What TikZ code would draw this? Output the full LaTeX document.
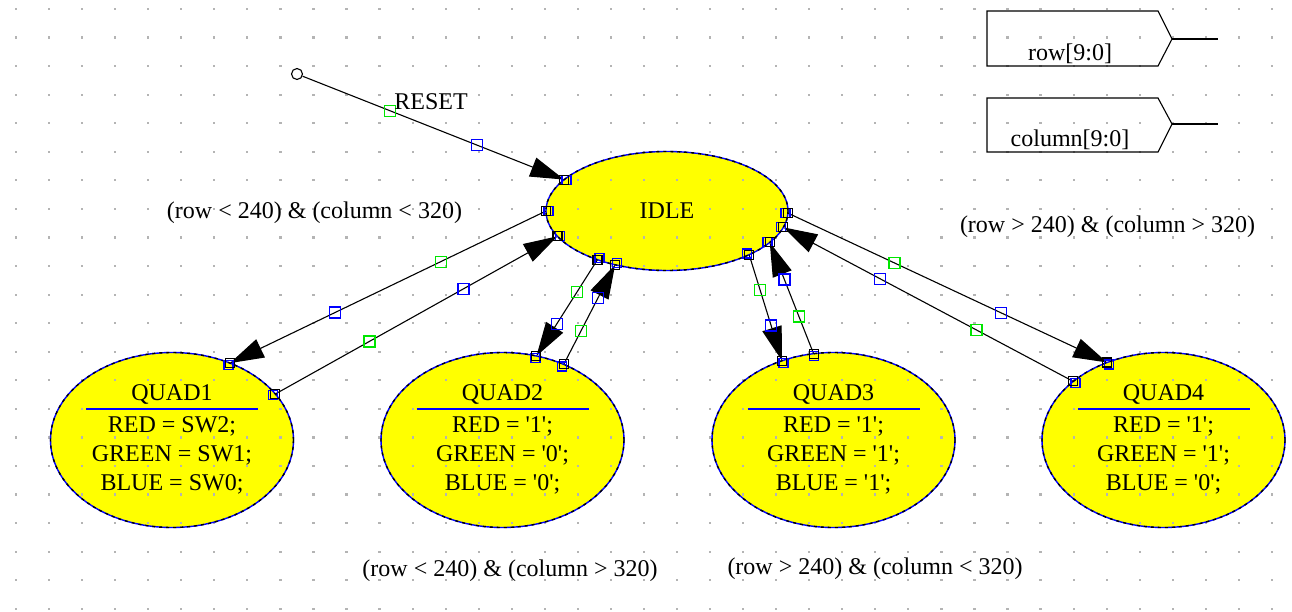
\documentclass[tikz,border=0pt]{standalone}
\usepackage{fontspec}
\setmainfont{Liberation Serif}
\usetikzlibrary{arrows.meta,shapes.geometric,calc}
\definecolor{dotc}{RGB}{180,180,180}
\definecolor{ylw}{RGB}{255,255,0}
\definecolor{hblue}{RGB}{0,0,255}
\definecolor{hgreen}{RGB}{0,230,0}
\tikzset{
  stateell/.style={ellipse, fill=ylw, inner sep=0pt, outer sep=0pt},
  idlesize/.style={minimum width=242pt, minimum height=119pt},
  quadsize/.style={minimum width=243pt, minimum height=175pt},
  txt/.style={font=\fontsize{24}{29}\selectfont, inner sep=0pt, text=black},
  conn/.style={draw=black, line width=1.1pt},
  arr/.style={-{Triangle[length=34pt,width=20pt]}},
  sepline/.style={draw=hblue, line width=1.4pt},
  outlb/.style={draw=hblue, line width=1.4pt},
  outlk/.style={draw=black, line width=1.4pt, dash pattern=on 3pt off 4pt},
  ksq/.style={draw=black, line width=1.1pt},
  bsq/.style={draw=hblue, line width=1.3pt},
  gsq/.style={draw=hgreen, line width=1.3pt},
  pinline/.style={draw=black, line width=1.1pt}
}
\newcommand\SqAt[3]{\draw[#1] ([shift={(-#2,-#2)}]#3) rectangle ([shift={(#2,#2)}]#3);}
\newcommand\EndMark[2]{%
  \coordinate (tmpb) at ($(#1.#2)!2.5pt!(#1.center)$);
  \SqAt{bsq}{4.5}{tmpb}
  \SqAt{ksq}{4.5}{#1.#2}}
\newcommand\Handles[2]{\SqAt{gsq}{5.5}{#1}\SqAt{bsq}{5.5}{#2}}
\newcommand\QuadText[6]{%
  \node[txt, anchor=base] (#1t) at (#2,400) {#3};
  \draw[sepline] ({#2-86},409) -- ({#2+86},409);
  \node[txt, anchor=base] (#1r) at (#2,432.5) {#4};
  \node[txt, anchor=base] (#1g) at (#2,461) {#5};
  \node[txt, anchor=base] (#1b) at (#2,490) {#6};}
\newcommand\sq{\textquotesingle}
\begin{document}
\begin{tikzpicture}[x=1pt,y=-1pt]
\useasboundingbox (0,0) rectangle (1292,611);
\fill[white] (0,0) rectangle (1292,611);
% state fills
\node[stateell, idlesize] (IDLE) at (667,211) {};
\node[stateell, quadsize] (Q1) at (172,440) {};
\node[stateell, quadsize] (Q2) at (502.5,440) {};
\node[stateell, quadsize] (Q3) at (833.5,440) {};
\node[stateell, quadsize] (Q4) at (1163.5,440) {};
% grid dots
\foreach \i in {0,...,38}{\foreach \j in {0,...,21}{
  \fill[dotc] ({16+33.05*\i-1.1},{9+28.56*\j-1.1}) rectangle ++(2.2,2.2);}}
% outlines
\draw[outlb] (IDLE.center) ellipse [x radius=121, y radius=59.5];
\draw[outlk] (IDLE.center) ellipse [x radius=121, y radius=59.5];
\foreach \n in {Q1,Q2,Q3,Q4}{
  \draw[outlb] (\n.center) ellipse [x radius=121.5, y radius=87.5];
  \draw[outlk] (\n.center) ellipse [x radius=121.5, y radius=87.5];}
% reset start
\node[circle, draw=black, line width=1.1pt, fill=white, minimum size=11pt, inner sep=0pt] (rst) at (297,74) {};
% connectors
\draw[conn,arr] (rst) -- (IDLE.163) coordinate[pos=1/3] (c0g) coordinate[pos=2/3] (c0b);
\draw[conn,arr] (IDLE.180) -- (Q1.53) coordinate[pos=1/3] (c1g) coordinate[pos=2/3] (c1b);
\draw[conn,arr] (Q1.24) -- (IDLE.193) coordinate[pos=1/3] (c2g) coordinate[pos=2/3] (c2b);
\draw[conn,arr] (IDLE.215) -- (Q2.68) coordinate[pos=1/3] (c3g) coordinate[pos=2/3] (c3b);
\draw[conn,arr] (Q2.51) -- (IDLE.226) coordinate[pos=1/3] (c4g) coordinate[pos=2/3] (c4b);
\draw[conn,arr] (IDLE.332) -- (Q3.123) coordinate[pos=1/3] (c5g) coordinate[pos=2/3] (c5b);
\draw[conn,arr] (Q3.103) -- (IDLE.343) coordinate[pos=1/3] (c6g) coordinate[pos=2/3] (c6b);
\draw[conn,arr] (IDLE.359) -- (Q4.126) coordinate[pos=1/3] (c7g) coordinate[pos=2/3] (c7b);
\draw[conn,arr] (Q4.147) -- (IDLE.352) coordinate[pos=1/3] (c8g) coordinate[pos=2/3] (c8b);
% handles
\Handles{c0g}{c0b}\Handles{c1g}{c1b}\Handles{c2g}{c2b}
\Handles{c3g}{c3b}\Handles{c4g}{c4b}\Handles{c5g}{c5b}
\Handles{c6g}{c6b}\Handles{c7g}{c7b}\Handles{c8g}{c8b}
% end markers
\EndMark{IDLE}{163}\EndMark{IDLE}{180}\EndMark{IDLE}{193}
\EndMark{IDLE}{215}\EndMark{IDLE}{226}\EndMark{IDLE}{332}
\EndMark{IDLE}{343}\EndMark{IDLE}{359}\EndMark{IDLE}{352}
\EndMark{Q1}{53}\EndMark{Q1}{24}
\EndMark{Q2}{68}\EndMark{Q2}{51}
\EndMark{Q3}{123}\EndMark{Q3}{103}
\EndMark{Q4}{126}\EndMark{Q4}{147}
% state texts
\node[txt] (idletxt) at (667,211) {IDLE};
\QuadText{Q1}{172}{QUAD1}{RED = SW2;}{GREEN = SW1;}{BLUE = SW0;}
\QuadText{Q2}{502.5}{QUAD2}{RED = \sq1\sq;}{GREEN = \sq0\sq;}{BLUE = \sq0\sq;}
\QuadText{Q3}{833.5}{QUAD3}{RED = \sq1\sq;}{GREEN = \sq1\sq;}{BLUE = \sq1\sq;}
\QuadText{Q4}{1163.5}{QUAD4}{RED = \sq1\sq;}{GREEN = \sq1\sq;}{BLUE = \sq0\sq;}
% transition labels
\node[txt] (rstlbl) at (431,102) {RESET};
\node[txt] (lblA) at (314.5,213) {(row < 240) \& (column < 320)};
\node[txt] (lblB) at (1107.5,227) {(row > 240) \& (column > 320)};
\node[txt] (lblC) at (510,571) {(row < 240) \& (column > 320)};
\node[txt] (lblD) at (875,569) {(row > 240) \& (column < 320)};
% output pins
\draw[pinline] (987,11) -- (1158,11) -- (1172,39) -- (1158,66) -- (987,66) -- cycle;
\coordinate (rowtip) at (1172,39);
\coordinate (rowend) at (1218,39);
\draw[pinline] (rowtip) -- (rowend);
\node[txt] (rowtxt) at (1070,54) {row[9:0]};
\draw[pinline] (987,98) -- (1158,98) -- (1172,124) -- (1158,152) -- (987,152) -- cycle;
\coordinate (coltip) at (1172,124);
\coordinate (colend) at (1218,124);
\draw[pinline] (coltip) -- (colend);
\node[txt] (coltxt) at (1070,140) {column[9:0]};
\end{tikzpicture}
\end{document}
